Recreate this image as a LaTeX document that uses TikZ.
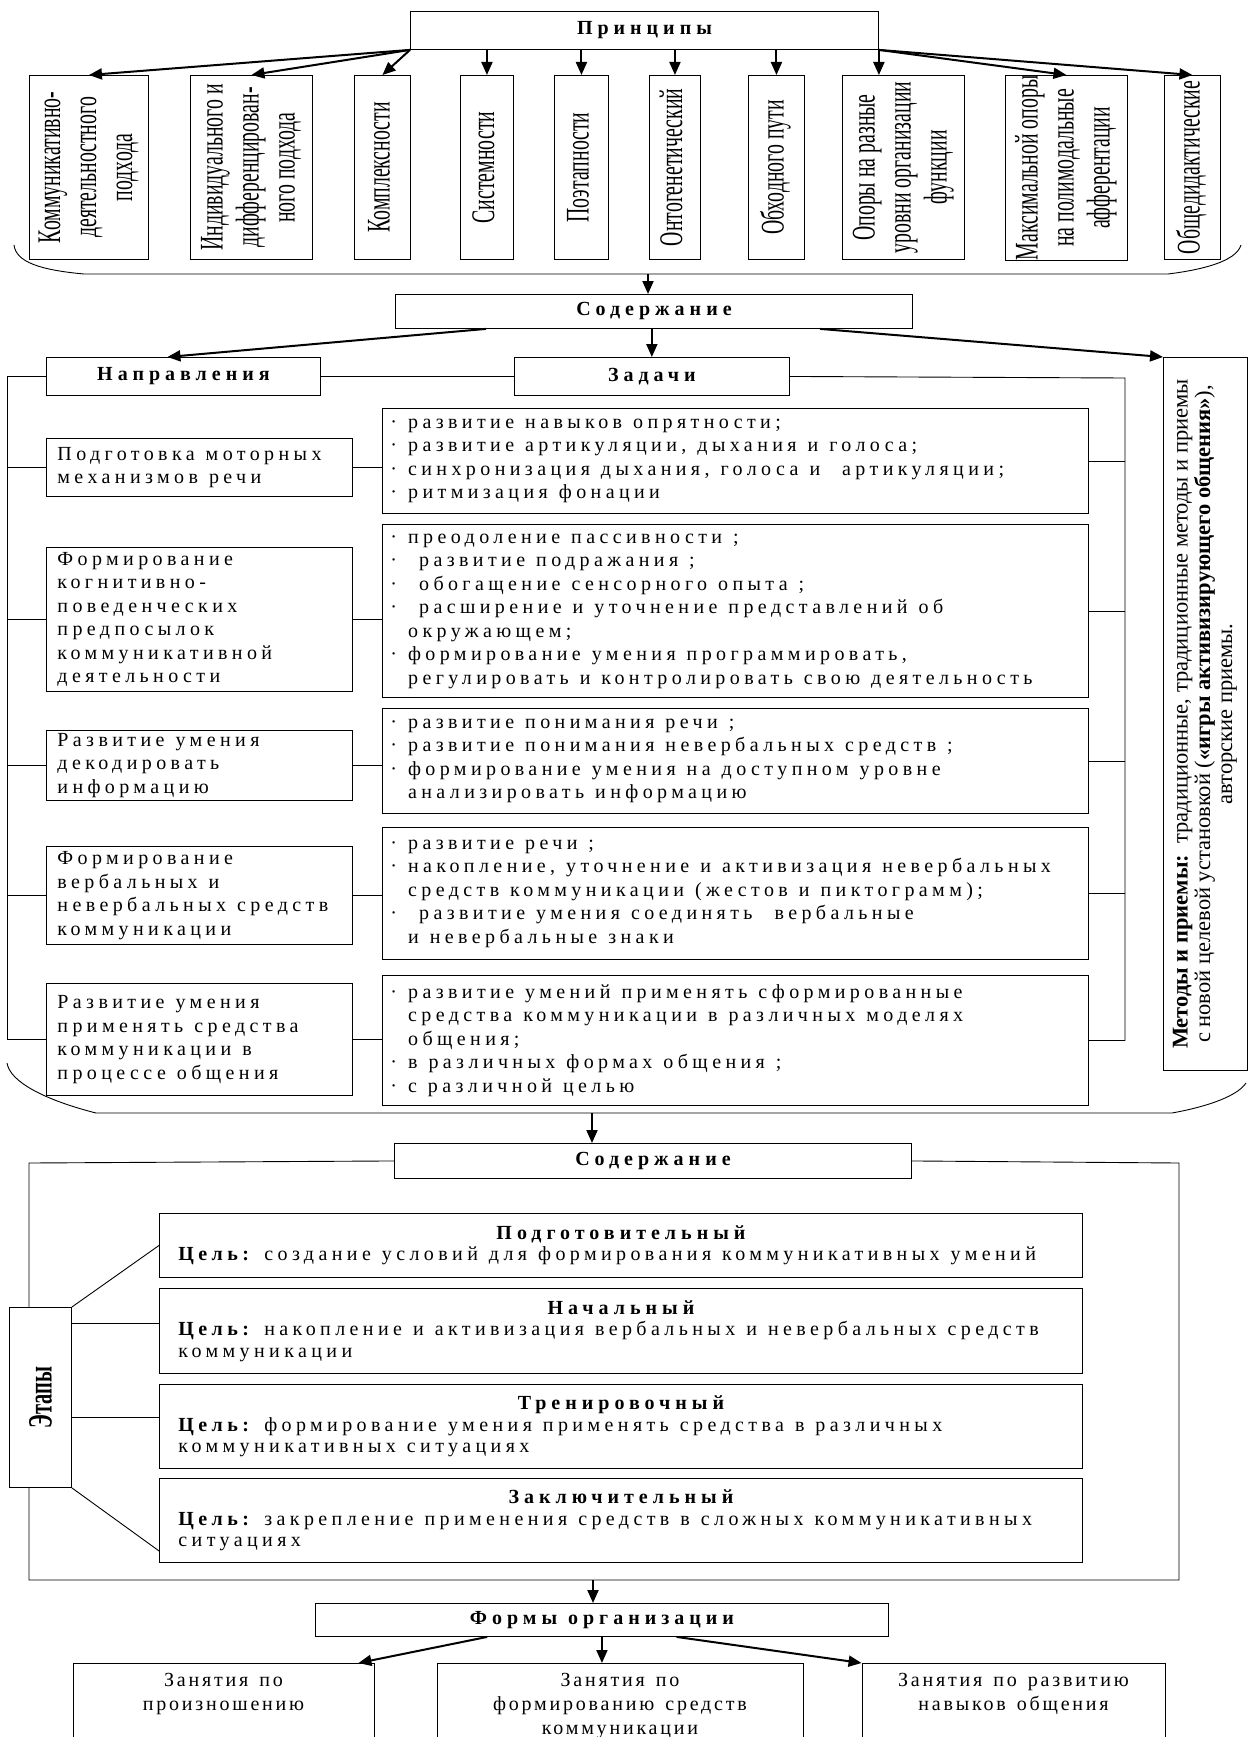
\documentclass[tikz,border=0pt]{standalone}
\usepackage{graphicx}
\usepackage{fontspec}
\setmainfont{Liberation Serif}
\newfontfamily\spfont[LetterSpace=22]{Liberation Serif}
\newfontfamily\hdfont[LetterSpace=25]{Liberation Serif}
\newfontfamily\frmfont[LetterSpace=14]{Liberation Serif}
\newfontfamily\narfont[FakeStretch=0.6]{Liberation Serif}
\usetikzlibrary{arrows.meta,positioning,calc}

\newcommand{\vlab}[1]{\rotatebox{90}{\narfont\fontsize{33}{36}\selectfont\begin{tabular}{@{}c@{}}#1\end{tabular}}}
\newcommand{\bul}{·\ }
\newcommand{\ind}{\phantom{·\ }}
\newcommand{\wide}{\spaceskip=0.55em plus 0.2em\xspaceskip=0.55em plus 0.2em\relax}

\begin{document}
\begin{tikzpicture}[x=1pt,y=-1pt,
  line width=0.9pt,
  node distance=20pt and 20pt,
  box/.style={draw,rectangle,inner sep=0pt,anchor=north west},
  hbox/.style={box,font=\hdfont\bfseries\fontsize{20}{24}\selectfont\wide},
  pbox/.style={box,minimum height=184pt},
  dbox/.style={box,minimum width=306pt,inner xsep=11pt,text width=284pt,align=left,font=\spfont\fontsize{20}{23.5}\selectfont},
  tbox/.style={box,minimum width=706pt,inner xsep=8pt,text width=690pt,align=left,font=\spfont\fontsize{20}{23.5}\selectfont},
  sbox/.style={box,minimum width=923pt,inner xsep=19pt,text width=885pt,align=left,font=\spfont\fontsize{20}{21.5}\selectfont},
  bbox/.style={box,anchor=north,inner ysep=10pt,text depth=80pt,align=center,font=\frmfont\fontsize{20}{24}\selectfont\wide},
  arrow/.style={-{Triangle[length=13pt,width=11pt]},line width=2pt},
  link/.style={line width=0.9pt}
]
  \useasboundingbox (0,0) rectangle (1249,1737);

  % Principles
  \node[hbox,minimum width=468pt,minimum height=38pt] (princ) at (410,11) {Принципы};
  \node[pbox,minimum width=119pt] (p1) at (29,75) {\vlab{Коммуникативно-\\деятельностного\\подхода}};
  \node[pbox,minimum width=122pt] (p2) at (190,75) {\vlab{Индивидуального и\\дифференцирован-\\ного подхода}};
  \node[pbox,minimum width=56pt] (p3) at (354,75) {\vlab{Комплексности}};
  \node[pbox,minimum width=53pt] (p4) at (460,75) {\vlab{Системности}};
  \node[pbox,minimum width=54pt] (p5) at (554,75) {\vlab{Поэтапности}};
  \node[pbox,minimum width=51pt] (p6) at (649,75) {\vlab{Онтогенетический}};
  \node[pbox,minimum width=56pt] (p7) at (748,75) {\vlab{Обходного пути}};
  \node[pbox,minimum width=122pt] (p8) at (842,75) {\vlab{Опоры на разные\\уровни организации\\функции}};
  \node[pbox,minimum width=122pt] (p9) at (1005,75) {\vlab{Максимальной опоры\\на полимодальные\\афферентации}};
  \node[pbox,minimum width=56pt] (p10) at (1164,75) {\vlab{Общедидактические}};

  % Content
  \node[hbox,minimum width=517pt,minimum height=34pt] (cont1) at (395,294) {Содержание};
  \node[hbox,minimum width=274pt,minimum height=38pt] (dirhead) at (46,357) {Направления};
  \node[hbox,minimum width=275pt,minimum height=38pt,right=193pt of dirhead] (taskhead) {Задачи};
  \node[box,minimum width=84pt,minimum height=713pt] (meth) at (1163,357) {\rotatebox{90}{\fontsize{22.5}{22}\selectfont\begin{tabular}{@{}c@{}}\textbf{Методы и приемы:}\ \ традиционные, традиционные методы и приемы\\с новой целевой установкой (\textbf{«игры активизирующего общения»}),\\авторские приемы.\end{tabular}}};

  % Directions
  \node[dbox,minimum height=58pt] (d1) at (46,438) {\wide Подготовка моторных\\механизмов речи};
  \node[dbox,minimum height=144pt] (d2) at (46,547) {\wide Формирование\\когнитивно-\\поведенческих\\предпосылок\\коммуникативной\\деятельности};
  \node[dbox,minimum height=70pt] (d3) at (46,730) {\wide Развитие умения\\декодировать\\информацию};
  \node[dbox,minimum height=98pt] (d4) at (46,846) {\wide Формирование\\вербальных и\\невербальных средств\\коммуникации};
  \node[dbox,minimum height=112pt] (d5) at (46,983) {\wide Развитие умения\\применять средства\\коммуникации в\\процессе общения};

  % Tasks
  \node[tbox,minimum height=105pt] (t1) at (382,408) {\wide\bul развитие навыков опрятности;\\\bul развитие артикуляции, дыхания и голоса;\\\bul синхронизация дыхания, голоса и\ \ артикуляции;\\\bul ритмизация фонации};
  \node[tbox,minimum height=173pt] (t2) at (382,524) {\wide\bul преодоление пассивности ;\\\bul\ развитие подражания ;\\\bul\ обогащение сенсорного опыта ;\\\bul\ расширение и уточнение представлений об\\\ind окружающем;\\\bul формирование умения программировать,\\\ind регулировать и контролировать свою деятельность};
  \node[tbox,minimum height=105pt] (t3) at (382,708) {\wide\bul развитие понимания речи ;\\\bul развитие понимания невербальных средств ;\\\bul формирование умения на доступном уровне\\\ind анализировать информацию};
  \node[tbox,minimum height=132pt] (t4) at (382,827) {\wide\bul развитие речи ;\\\bul накопление, уточнение и активизация невербальных\\\ind средств коммуникации (жестов и пиктограмм);\\\bul\ развитие умения соединять\ \ вербальные\\\ind и невербальные знаки};
  \node[tbox,minimum height=130pt] (t5) at (382,975) {\wide\bul развитие умений применять сформированные\\\ind средства коммуникации в различных моделях\\\ind общения;\\\bul в различных формах общения ;\\\bul с различной целью};

  % Stages
  \node[hbox,minimum width=517pt,minimum height=35pt] (cont2) at (394,1143) {Содержание};
  \node[box,minimum width=62pt,minimum height=180pt] (etap) at (9,1307) {\rotatebox{90}{\narfont\bfseries\fontsize{34}{36}\selectfont Этапы}};
  \node[sbox,minimum height=64pt] (s1) at (159,1213) {\wide\makebox[885pt]{\hdfont\bfseries Подготовительный}\\\textbf{Цель:} создание условий для формирования коммуникативных умений};
  \node[sbox,minimum height=85pt] (s2) at (159,1288) {\wide\makebox[885pt]{\hdfont\bfseries Начальный}\\\textbf{Цель:} накопление и активизация вербальных и невербальных средств\\коммуникации};
  \node[sbox,minimum height=84pt] (s3) at (159,1384) {\wide\makebox[885pt]{\hdfont\bfseries Тренировочный}\\\textbf{Цель:} формирование умения применять средства в различных\\коммуникативных ситуациях};
  \node[sbox,minimum height=84pt] (s4) at (159,1478) {\wide\makebox[885pt]{\hdfont\bfseries Заключительный}\\\textbf{Цель:} закрепление применения средств в сложных коммуникативных\\ситуациях};

  % Forms
  \node[hbox,minimum width=573pt,minimum height=33pt] (forms) at (315,1603) {Формы организации};
  \node[bbox,minimum width=301pt] (b1) at (223.5,1663) {Занятия по\\произношению};
  \node[bbox,minimum width=366pt] (b2) at (620,1663) {Занятия по\\формированию средств\\коммуникации};
  \node[bbox,minimum width=303pt] (b3) at (1013.5,1663) {Занятия по развитию\\навыков общения};

  % Arrows
  \foreach \p in {p1,p2,p3} \draw[arrow] (princ.south west) -- (\p.north);
  \foreach \p in {p4,p5,p6,p7} \draw[arrow] (\p.north |- princ.south) -- (\p.north);
  \draw[arrow] (princ.south east) -- (princ.south east |- p8.north);
  \foreach \p in {p9,p10} \draw[arrow] (princ.south east) -- (\p.north);

  \draw[link] (14,245) .. controls (16,262) and (40,270) .. (84,274) -- (1168,274) .. controls (1200,270) and (1236,262) .. (1241,245);
  \coordinate (brace1) at (648,274);
  \draw[arrow] (brace1) -- (brace1 |- cont1.north);

  \draw[arrow] ($(cont1.south west)+(91,0)$) -- ([xshift=-16pt]dirhead.north);
  \draw[arrow] (taskhead.north |- cont1.south) -- (taskhead.north);
  \draw[arrow] ($(cont1.south west)+(425,0)$) -- (meth.north west);

  % Links
  \draw[link] (dirhead.east) -- (taskhead.west);
  \draw[link] (dirhead.west) -| ($(d5.west)+(-39,0)$) -- (d5.west);
  \foreach \d in {d1,d2,d3,d4} \draw[link] (\d.west) -- ++(-39,0);
  \foreach \i in {1,...,5} \draw[link] (d\i.east) -- (d\i.east -| t\i.west);
  \coordinate (rbus) at (1125,378);
  \draw[link] (taskhead.east) -- (rbus) -- (rbus |- t5.east) -- (t5.east);
  \foreach \i in {1,...,4} \draw[link] (t\i.east) -- (t\i.east -| rbus);

  \draw[link] (7,1063) .. controls (10,1082) and (45,1100) .. (96,1113) -- (1172,1113) .. controls (1200,1108) and (1236,1098) .. (1246,1083);
  \coordinate (brace2) at (592,1113);
  \draw[arrow] (brace2) -- (brace2 |- cont2.north);

  % Frame
  \coordinate (ftl) at (29,1163);
  \coordinate (fbl) at (29,1580);
  \coordinate (fbr) at (1179,1580);
  \coordinate (ftr) at (1179,1163);
  \draw[link] (cont2.west) -- (ftl) -- (ftl |- etap.north);
  \draw[link] (ftl |- etap.south) -- (fbl) -- (fbr) -- (ftr) -- (cont2.east);

  \coordinate (s2in) at ($(s2.north west)+(0,35)$);
  \coordinate (s3in) at ($(s3.north west)+(0,33)$);
  \draw[link] (etap.north east) -- (s1.west);
  \draw[link] (etap.east |- s2in) -- (s2in);
  \draw[link] (etap.east |- s3in) -- (s3in);
  \draw[link] (etap.south east) -- ($(s4.south west)+(0,-12)$);

  \coordinate (fbot) at (593,1580);
  \draw[arrow] (fbot) -- (fbot |- forms.north);
  \draw[arrow] ($(forms.south west)!0.3!(forms.south east)$) -- ([xshift=-16pt]b1.north east);
  \draw[arrow] (forms.south) -- (forms.south |- b2.north);
  \draw[arrow] ($(forms.south west)!0.63!(forms.south east)$) -- (b3.north west);
\end{tikzpicture}
\end{document}
